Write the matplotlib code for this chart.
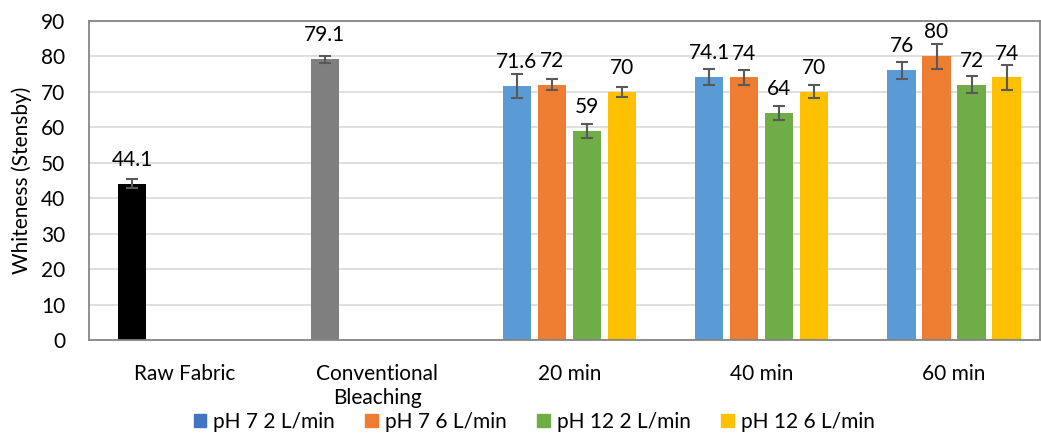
import numpy as np
import matplotlib
matplotlib.use("Agg")
import matplotlib.pyplot as plt
from matplotlib.patches import Patch

plt.rcParams["font.family"] = ["Lato", "DejaVu Sans"]

categories = ["Raw Fabric", "Conventional\nBleaching", "20 min", "40 min", "60 min"]
series_names = ["pH 7 2 L/min", "pH 7 6 L/min", "pH 12 2 L/min", "pH 12 6 L/min"]
nan = np.nan
vals_ph7_2 = [44.1, 79.1, 71.6, 74.1, 76]
vals_ph7_6 = [nan, nan, 72, 74, 80]
vals_ph12_2 = [nan, nan, 59, 64, 72]
vals_ph12_6 = [nan, nan, 70, 70, 74]
err_ph7_2 = [1.2, 0.9, 3.3, 2.15, 2.5]
err_ph7_6 = [0, 0, 1.55, 2.0, 3.5]
err_ph12_2 = [0, 0, 2.0, 1.9, 2.5]
err_ph12_6 = [0, 0, 1.4, 1.9, 3.55]
labels_ph7_2 = ["44.1", "79.1", "71.6", "74.1", "76"]
labels_ph7_6 = ["", "", "72", "74", "80"]
labels_ph12_2 = ["", "", "59", "64", "72"]
labels_ph12_6 = ["", "", "70", "70", "74"]

series_vals = [vals_ph7_2, vals_ph7_6, vals_ph12_2, vals_ph12_6]
series_err = [err_ph7_2, err_ph7_6, err_ph12_2, err_ph12_6]
series_lbl = [labels_ph7_2, labels_ph7_6, labels_ph12_2, labels_ph12_6]
colors = ["#5b9bd5", "#ed7d31", "#70ad47", "#ffc000"]
legend_colors = ["#4472c4", "#ed7d31", "#70ad47", "#ffc000"]
# first series bars for raw / conventional are recoloured
first_colors = ["#000000", "#7f7f7f", "#5b9bd5", "#5b9bd5", "#5b9bd5"]

fig = plt.figure(figsize=(10.41, 4.36), dpi=100)
ax = fig.add_axes([0.0852, 0.2202, 0.9138, 0.7323])

x = np.arange(len(categories))
step = 0.182
width = 0.146
for i, (v, e, lb) in enumerate(zip(series_vals, series_err, series_lbl)):
    xs = x + (i - 1.5) * step
    cols = first_colors if i == 0 else [colors[i]] * len(x)
    ax.bar(xs, v, width, color=cols, zorder=2)
    ok = ~np.isnan(np.array(v, dtype=float))
    ax.errorbar(xs[ok], np.array(v)[ok], yerr=np.array(e)[ok], fmt="none",
                ecolor="#595959", elinewidth=1.5, capsize=4.5, capthick=1.5, zorder=3)
    for xi, vi, t in zip(xs, v, lb):
        if t:
            ax.annotate(t, (xi, vi), xytext=(0, 10), textcoords="offset points",
                        ha="center", va="bottom", fontsize=15, color="#000000")

ax.set_xlim(-0.5, 4.447)
ax.set_ylim(0, 90)
ax.set_yticks(range(0, 91, 10))
ax.set_xticks(x)
ax.set_xticklabels(categories, fontsize=15, linespacing=1.3)
ax.tick_params(axis="both", length=0, labelsize=15, colors="#000000")
ax.tick_params(axis="x", pad=17)
ax.tick_params(axis="y", pad=17)
ax.set_ylabel("Whiteness (Stensby)", fontsize=15, labelpad=6)
ax.grid(axis="y", color="#d9d9d9", linewidth=1.2, zorder=0)
ax.set_axisbelow(True)
for s in ax.spines.values():
    s.set_color("#868686")
    s.set_linewidth(1.3)

handles = [Patch(color=c, label=n) for c, n in zip(legend_colors, series_names)]
fig.legend(handles=handles, loc="lower center", bbox_to_anchor=(0.513, -0.033), ncol=4,
           frameon=False, fontsize=15, handlelength=0.62, handleheight=0.62,
           handletextpad=0.33, columnspacing=1.45)

fig.savefig("out.png", dpi=100)
